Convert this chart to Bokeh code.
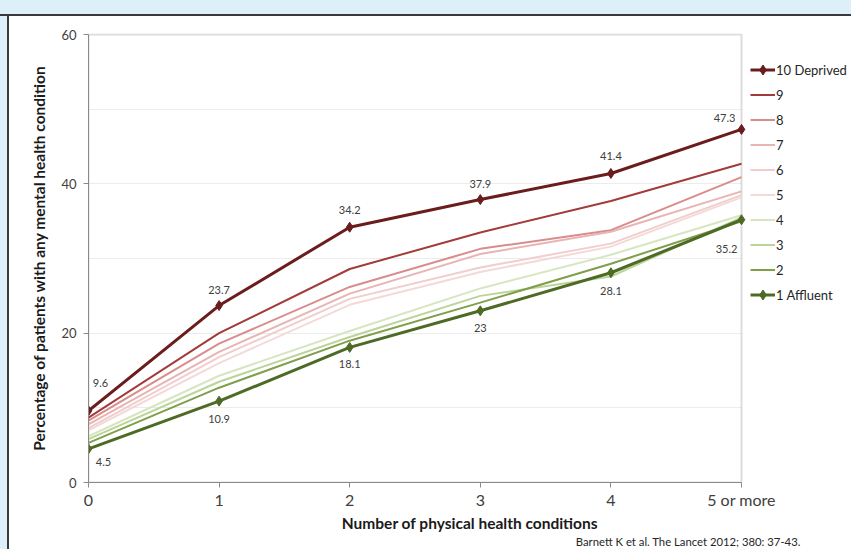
from bokeh.plotting import figure
from bokeh.models import (Range1d, FixedTicker, Legend, LegendItem, Title,
                          BoxAnnotation, ColumnDataSource, GlobalInlineStyleSheet)
from bokeh.core.properties import value
from bokeh.embed import file_html
from bokeh.resources import INLINE

# ---------------- data ----------------
x_pos = [0, 1, 2, 3, 4, 5]
x_labels = ["0", "1", "2", "3", "4", "5 or more"]
series_names = ["10 Deprived", "9", "8", "7", "6", "5", "4", "3", "2", "1 Affluent"]

q10 = [9.6, 23.7, 34.2, 37.9, 41.4, 47.3]
q9 = [8.7, 20.0, 28.6, 33.5, 37.7, 42.7]
q8 = [8.3, 18.6, 26.2, 31.3, 33.8, 40.9]
q7 = [7.8, 17.5, 25.3, 30.6, 33.6, 39.0]
q6 = [7.3, 16.8, 24.6, 28.8, 32.0, 38.5]
q5 = [7.0, 16.0, 23.8, 28.2, 31.6, 38.2]
q4 = [6.2, 14.3, 20.3, 26.0, 30.5, 35.8]
q3 = [5.8, 13.5, 19.5, 25.0, 27.6, 35.5]
q2 = [5.3, 12.7, 19.0, 24.1, 29.3, 35.0]
q1 = [4.5, 10.9, 18.1, 23.0, 28.1, 35.2]
series_values = [q10, q9, q8, q7, q6, q5, q4, q3, q2, q1]

y_ticks = [0, 20, 40, 60]
grid_ticks = [10, 20, 30, 40, 50]
citation = "Barnett K et al.  The Lancet  2012; 380: 37-43."

# ---------------- styles / layout ----------------
colors = ["#6b1c1c", "#a33b3b", "#d98c8c", "#e8b4b4", "#f1cdcd",
          "#f4d9d9", "#d7e6c0", "#bcd49a", "#7f9f4a", "#4e6b25"]
FONT = "Lato"
TXT = "#404040"
AXC = "#8a8a8a"

W, H = 851, 549
LEFT, TOP, BOTTOM = 88, 33, 67      # frame borders in pixels
PLOT_W = 653                        # pixel width of the x = 0..5 area
x_min, x_max = x_pos[0], x_pos[-1]
y_min, y_max = y_ticks[0], y_ticks[-1]
ppu = PLOT_W / (x_max - x_min)
x_end = x_max + (W - LEFT - PLOT_W) / ppu
y_end = y_max + 0.15

page_css = (
    "html { min-height: 100%; background:"
    " linear-gradient(to bottom, #ddeff8 0px, #ddeff8 14px, #3a3a3a 14px, #3a3a3a 16px, transparent 16px) no-repeat,"
    " linear-gradient(to right, #ddeff8 0px, #ddeff8 7px, #3a3a3a 7px, #3a3a3a 9px, #ffffff 9px) !important; }"
    " body { background: transparent !important; }"
)

p = figure(width=W, height=H, output_backend="svg", toolbar_location=None,
           x_range=Range1d(x_min, x_end), y_range=Range1d(y_min, y_end),
           min_border_left=LEFT, min_border_right=0, min_border_top=TOP,
           min_border_bottom=BOTTOM, border_fill_alpha=0,
           background_fill_color="white")
p.stylesheets = [GlobalInlineStyleSheet(css=page_css)]
p.outline_line_color = None

p.xgrid.visible = False
p.ygrid.ticker = FixedTicker(ticks=grid_ticks)
p.ygrid.grid_line_color = "#ececec"
p.ygrid.grid_line_width = 1
# hide grid to the right of the plot area
p.add_layout(BoxAnnotation(left=x_max, fill_color="white", fill_alpha=1,
                           line_color=None, level="underlay"))
# plot-area border (top and right edges)
p.add_layout(BoxAnnotation(left=x_min, right=x_max, bottom=y_min, top=y_max,
                           fill_alpha=0, line_color=AXC, line_width=2,
                           level="underlay"))

# axes
p.xaxis.ticker = FixedTicker(ticks=x_pos)
p.xaxis.major_label_overrides = {k: v for k, v in zip(x_pos, x_labels)}
p.xaxis.bounds = (x_min, x_max)
p.yaxis.ticker = FixedTicker(ticks=y_ticks)
p.yaxis.bounds = (y_min, y_max)
for ax in (p.xaxis[0], p.yaxis[0]):
    ax.axis_line_color = AXC
    ax.major_tick_line_color = AXC
    ax.major_tick_in = 0
    ax.major_tick_out = 5
    ax.minor_tick_line_color = None
    ax.major_label_text_font = FONT
    ax.major_label_text_color = TXT
    ax.axis_label_text_font = FONT
    ax.axis_label_text_font_style = "bold"
    ax.axis_label_text_color = "#1a1a1a"
p.xaxis.major_label_text_font_size = "16px"
p.yaxis.major_label_text_font_size = "13px"
p.xaxis.major_label_standoff = 2
p.yaxis.major_label_standoff = 7
p.xaxis.axis_label = "Number of physical health conditions"
p.yaxis.axis_label = "Percentage of patients with any mental health condition"
p.xaxis.axis_label_text_font_size = "15.5px"
p.yaxis.axis_label_text_font_size = "15.5px"
p.xaxis.axis_label_standoff = 2
p.yaxis.axis_label_standoff = 10

# lines
items = []
for i, (name, vals, col) in enumerate(zip(series_names, series_values, colors)):
    src = ColumnDataSource(dict(x=x_pos, y=vals))
    bold = i in (0, len(series_names) - 1)
    r = p.line("x", "y", source=src, line_color=col, line_width=3 if bold else 2)
    rs = [r]
    if bold:
        m = p.scatter("x", "y", source=src, marker="diamond", size=10,
                      fill_color=col, line_color=col)
        rs.append(m)
    items.append(LegendItem(label=name, renderers=rs))

# data labels (only extreme series)
top_off = [(12, -28), (0, -16), (0, -17), (0, -16), (0, -17), (-17, -11)]
bot_off = [(15, 13), (0, 18), (0, 17), (0, 17), (0, 18), (-15, 29)]
for vals, offs in ((q10, top_off), (q1, bot_off)):
    src = ColumnDataSource(dict(x=x_pos, y=vals,
                                t=[f"{v:g}" for v in vals],
                                dx=[o[0] for o in offs],
                                dy=[o[1] for o in offs]))
    p.text("x", "y", text="t", x_offset="dx", y_offset="dy", source=src,
           text_font=value(FONT), text_font_size="11px", text_color=TXT,
           text_align="center", text_baseline="middle")

legend = Legend(items=items, location=(PLOT_W + 9, 175))
legend.background_fill_alpha = 0
legend.border_line_alpha = 0
legend.padding = 0
legend.margin = 0
legend.spacing = 0
legend.glyph_width = 25
legend.glyph_height = 25
legend.label_height = 25
legend.label_standoff = 1
legend.label_text_font = FONT
legend.label_text_font_size = "13px"
legend.label_text_color = "#262626"
p.add_layout(legend)

cite = Title(text=citation, align="right", offset=45, standoff=-3,
             text_font=FONT, text_font_size="11.3px", text_font_style="normal",
             text_color="#262626")
p.add_layout(cite, "below")

open("out.html", "w").write(file_html(p, INLINE))
